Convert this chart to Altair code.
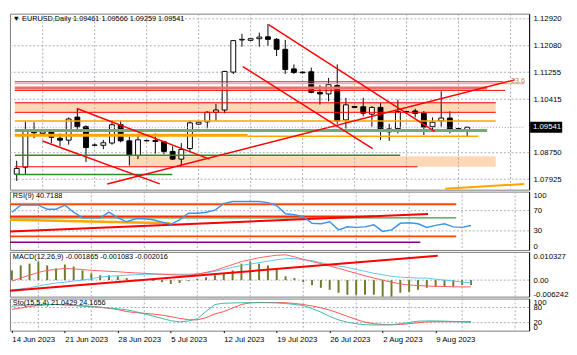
import altair as alt
import pandas as pd

# ---------------- data ----------------
date_labels = ["14 Jun 2023", "21 Jun 2023", "28 Jun 2023", "5 Jul 2023", "12 Jul 2023",
               "19 Jul 2023", "26 Jul 2023", "2 Aug 2023", "9 Aug 2023"]
date_ticks = [0, 6, 12, 18, 24, 30, 36, 42, 48]
grid_bars = [3, 9, 15, 21, 27, 33, 39, 45, 51, 57]

opens = [1.0808, 1.0830, 1.0944, 1.0935, 1.0940, 1.0920, 1.0914, 1.0986, 1.0956, 1.0898,
         1.0898, 1.0905, 1.0962, 1.0912, 1.0866, 1.0912, 1.0913, 1.0909, 1.0879, 1.0855,
         1.0888, 1.0964, 1.0971, 1.1001, 1.1008, 1.1126, 1.1226, 1.1225, 1.1230, 1.1236,
         1.1228, 1.1197, 1.1136, 1.1126, 1.1127, 1.1063, 1.1058, 1.1084, 1.0977, 1.1019,
         1.1018, 1.0995, 1.1016, 1.0940, 1.0950, 1.1003, 1.1005, 1.0997, 1.0956, 1.0974,
         1.0983, 1.0950, 1.09461]
highs = [1.0850, 1.0972, 1.0970, 1.0943, 1.0945, 1.0935, 1.0985, 1.1012, 1.0960, 1.0903,
         1.0915, 1.0976, 1.0975, 1.0925, 1.0934, 1.0915, 1.0935, 1.0912, 1.0895, 1.0905,
         1.0975, 1.0972, 1.1004, 1.1027, 1.1130, 1.1226, 1.1245, 1.1232, 1.1249, 1.1276,
         1.1232, 1.1226, 1.1150, 1.1128, 1.1140, 1.1085, 1.1108, 1.1150, 1.1046, 1.1021,
         1.1046, 1.1020, 1.1030, 1.0965, 1.1040, 1.1006, 1.1012, 1.1005, 1.0985, 1.1066,
         1.1004, 1.0951, 1.09566]
lows = [1.0787, 1.0806, 1.0920, 1.0931, 1.0905, 1.0895, 1.0900, 1.0945, 1.0846, 1.0896,
        1.0886, 1.0900, 1.0907, 1.0835, 1.0855, 1.0910, 1.0872, 1.0870, 1.0852, 1.0833,
        1.0880, 1.0962, 1.0951, 1.0975, 1.0998, 1.1120, 1.1205, 1.1223, 1.1205, 1.1208,
        1.1176, 1.1120, 1.1120, 1.1122, 1.1060, 1.1025, 1.1035, 1.0965, 1.0950, 1.1015,
        1.0988, 1.0956, 1.0914, 1.0912, 1.0935, 1.1000, 1.0985, 1.0930, 1.0940, 1.0956,
        1.0935, 1.0944, 1.09259]
closes = [1.0826, 1.0944, 1.0937, 1.0940, 1.0923, 1.0914, 1.0980, 1.0956, 1.0891, 1.0899,
          1.0906, 1.0962, 1.0912, 1.0866, 1.0915, 1.0913, 1.0910, 1.0879, 1.0855, 1.0885,
          1.0968, 1.0970, 1.1001, 1.1008, 1.1128, 1.1224, 1.1228, 1.1230, 1.1235, 1.1228,
          1.1197, 1.1134, 1.1125, 1.1124, 1.1063, 1.1058, 1.1087, 1.0974, 1.1024, 1.1016,
          1.0998, 1.1016, 1.0941, 1.0949, 1.1003, 1.1003, 1.0997, 1.0955, 1.0970, 1.0983,
          1.0947, 1.0946, 1.09541]

rsi = [67, 81, 81, 81, 73, 73, 81, 67, 56, 56, 56, 67, 56, 48, 54, 54, 52, 47, 43, 52,
       65, 65, 67, 71, 84, 88, 88, 88, 88, 86, 80, 64, 62, 58, 45, 44, 48, 32, 38, 37,
       38, 42, 29, 32, 45, 46, 44, 37, 41, 44, 38, 37, 40.7188]

macd_hist = [0.0043, 0.0065, 0.0073, 0.0082, 0.0065, 0.0052, 0.0069, 0.0060, 0.0043, 0.0030,
             0.0022, 0.0022, 0.0017, 0.0009, 0.0002, 0.0001, -0.0004, -0.0009, -0.0017, -0.0013,
             -0.0004, 0.0006, 0.0013, 0.0022, 0.0030, 0.0043, 0.0073, 0.0082, 0.0073, 0.0065,
             0.0052, 0.0017, 0.0009, -0.0009, -0.0022, -0.0034, -0.0043, -0.0056, -0.0065, -0.0065,
             -0.0065, -0.0065, -0.0073, -0.0073, -0.0056, -0.0052, -0.0043, -0.0034, -0.0030, -0.0030,
             -0.0030, -0.0022, -0.0022]
macd_blue = [-0.0043, -0.0039, -0.0034, -0.0026, -0.0019, -0.0013, -0.0009, -0.0004, 0.0000, 0.0006,
             0.0013, 0.0017, 0.0019, 0.0022, 0.0024, 0.0026, 0.0026, 0.0026, 0.0026, 0.0026,
             0.0026, 0.0028, 0.0032, 0.0039, 0.0047, 0.0056, 0.0065, 0.0071, 0.0077, 0.0084,
             0.0090, 0.0095, 0.0095, 0.0090, 0.0086, 0.0077, 0.0069, 0.0062, 0.0056, 0.0047,
             0.0039, 0.0030, 0.0024, 0.0017, 0.0013, 0.0011, 0.0009, 0.0009, 0.0004, 0.0000,
             -0.0004, -0.0009, -0.0013]
macd_red = [-0.0004, 0.0009, 0.0022, 0.0034, 0.0043, 0.0047, 0.0052, 0.0049, 0.0047, 0.0043,
            0.0041, 0.0039, 0.0037, 0.0034, 0.0032, 0.0030, 0.0028, 0.0026, 0.0024, 0.0022,
            0.0022, 0.0026, 0.0034, 0.0043, 0.0056, 0.0069, 0.0082, 0.0090, 0.0099, 0.0105,
            0.0110, 0.0112, 0.0103, 0.0092, 0.0082, 0.0073, 0.0062, 0.0052, 0.0041, 0.0030,
            0.0019, 0.0009, 0.0000, -0.0009, -0.0017, -0.0022, -0.0024, -0.0026, -0.0028, -0.0028,
            -0.0030, -0.0030, -0.0030]
macd_last = [-0.001865, -0.001083, -0.002016]

sto_main = [85, 88, 90, 91, 92, 92, 90, 88, 85, 83, 81, 78, 75, 71, 64, 55, 46, 37, 28, 23,
            27, 35, 65, 92, 97, 98, 99, 99, 99, 99, 98, 96, 92, 88, 76, 62, 45, 31, 22, 16,
            12, 11, 11, 12, 16, 21, 26, 27, 27, 26, 25, 23, 21.0429]
sto_sig = [73, 78, 84, 88, 91, 92, 91, 89, 87, 85, 81, 77, 72, 64, 60, 57, 54, 50, 44, 37,
           32, 31, 40, 55, 64, 78, 92, 99, 100, 100, 100, 99, 96, 92, 86, 79, 70, 58, 45, 33,
           22, 16, 13, 12, 13, 16, 20, 23, 24, 24, 24, 24, 24.1656]

price_ticks = [1.12920, 1.12080, 1.11255, 1.10415, 1.08750, 1.07925]
rsi_ticks = [0, 30, 70, 100]
rsi_grid = [30, 70]
macd_ticks = [-0.006242, 0.0, 0.010327]
macd_grid = [0.0]
sto_ticks = [0, 20, 80, 100]
sto_grid = [20, 80]

# drawn objects: [level, from_bar, to_bar] / [bar1, level1, bar2, level2]
red_levels = [[1.10958, -0.22, 56.17], [1.10690, -0.22, 56.39], [1.10304, -0.22, 55.29],
              [1.10007, -0.22, 55.29], [1.08312, -0.22, 46.26]]
salmon_levels = [[1.10765, -0.22, 54.30]]
fib_levels = [[1.10898, -0.22, 58.59]]
orange_thin_levels = [[1.09739, -0.22, 55.29], [1.09263, 26.65, 53.30]]
orange_thick_levels = [[1.09293, -0.22, 26.65]]
green_thick_levels = [[1.09442, -0.22, 54.30]]
green_thin_levels = [[1.08669, -0.22, 44.27], [1.08074, -0.22, 17.95]]
peach_zones = [[1.10333, 1.10006, -0.22, 55.29], [1.08639, 1.08312, 13.0, 55.29]]
red_trends = [[6.94, 1.10125, 22.25, 1.08550], [2.97, 1.09115, 16.52, 1.07777],
              [10.46, 1.07777, 57.49, 1.11017], [29.07, 1.12742, 48.24, 1.09412],
              [26.1, 1.11434, 41.08, 1.08877]]
orange_trends = [[49.45, 1.07628, 58.59, 1.07777]]
fib_label = [[57.05, 1.10988, "23.6"]]

rsi_orangered_levels = [[82.7, -0.22, 50.33], [19.2, -0.22, 50.33]]
rsi_salmon_levels = [[84.6, -0.22, 50.33]]
rsi_red_levels = [[58.7, -0.22, 41.08]]
rsi_green_levels = [[55.8, -0.22, 50.33]]
rsi_purple_levels = [[7.7, -0.22, 46.26]]
rsi_red_trends = [[-0.22, 28.8, 47.14, 63.5]]
rsi_orange_trends = [[-0.22, 51.9, 17.95, 45.2]]
macd_red_trends = [[-0.22, -0.00473, 48.24, 0.01076]]

# ---------------- chart ----------------
FONT = "Liberation Sans"
W = 534
GRID = "#a3acba"
XS = alt.Scale(domain=[-0.22, 58.59], nice=False, zero=False)
PS = alt.Scale(domain=[1.07598, 1.13079], nice=False, zero=False)
RS = alt.Scale(domain=[-7.7, 107.7], nice=False, zero=False)
MS = alt.Scale(domain=[-0.007315, 0.012478], nice=False, zero=False)
SS = alt.Scale(domain=[-11.5, 115.4], nice=False, zero=False)


def yaxis(ticks, expr):
    return alt.Axis(orient="right", values=ticks, labelExpr=expr, ticks=False, domain=True,
                    domainColor="black", grid=False, labelPadding=4, labelFlush=False,
                    labelOverlap=False, title=None, labelFont=FONT, labelFontSize=8,
                    labelColor="black")


macd_expr = "datum.value == 0 ? '0.00' : replace(format(datum.value, '.6f'), '\u2212', '-')"
AXES = {
    id(PS): yaxis(price_ticks, "format(datum.value, '.5f')"),
    id(RS): yaxis(rsi_ticks, "format(datum.value, 'd')"),
    id(MS): yaxis(macd_ticks, macd_expr),
    id(SS): yaxis(sto_ticks, "format(datum.value, 'd')"),
}

date_expr = " : ".join(f"datum.value == {i} ? '{d}'" for i, d in zip(date_ticks, date_labels)) + " : ''"
XAXIS = alt.Axis(orient="bottom", values=date_ticks, labelExpr=date_expr, labelAlign="left",
                 labelFlush=False, labelOverlap=False, ticks=True, tickSize=2,
                 tickColor="black", domain=False, grid=False, labelPadding=3,
                 labelFont=FONT, labelFontSize=8, labelColor="black", title=None)


def xq(f, bottom=False):
    return alt.X(f, type="quantitative", scale=XS, axis=XAXIS if bottom else None)


def yq(f, s):
    return alt.Y(f, type="quantitative", scale=s, axis=AXES[id(s)])


def vgrid(bottom=False):
    return alt.Chart(pd.DataFrame({"b": grid_bars})).mark_rule(
        color=GRID, strokeDash=[2, 2], strokeWidth=1).encode(x=xq("b", bottom))


def hgrid(levels, s):
    return alt.Chart(pd.DataFrame({"v": levels})).mark_rule(
        color=GRID, strokeDash=[2, 2], strokeWidth=1).encode(y=yq("v", s))


def hlines(rows, s, color, width, dash=None):
    df = pd.DataFrame(rows, columns=["v", "a", "b"])
    kw = dict(color=color, strokeWidth=width, clip=True)
    if dash:
        kw["strokeDash"] = dash
    return alt.Chart(df).mark_rule(**kw).encode(x=xq("a"), x2="b", y=yq("v", s))


def tlines(rows, s, color, width):
    df = pd.DataFrame(rows, columns=["a", "v1", "b", "v2"])
    return alt.Chart(df).mark_rule(color=color, strokeWidth=width, clip=True).encode(
        x=xq("a"), x2="b", y=yq("v1", s), y2="v2")


def label(text):
    return alt.Chart(pd.DataFrame({"t": [text]})).mark_text(
        align="left", baseline="middle", font=FONT, fontSize=7.5, color="black").encode(
        x=alt.value(3), y=alt.value(5), text="t")


n = len(opens)
bars = pd.DataFrame({"i": list(range(n)), "o": opens, "h": highs, "l": lows, "c": closes})
bars["dir"] = ["up" if c >= o else "down" for o, c in zip(opens, closes)]

zones = alt.Chart(pd.DataFrame(peach_zones, columns=["v1", "v2", "a", "b"])).mark_rect(
    color="#fcd8b6", clip=True).encode(x=xq("a"), x2="b", y=yq("v1", PS), y2="v2")
wicks = alt.Chart(bars).mark_rule(color="black", strokeWidth=1).encode(
    x=xq("i"), y=yq("l", PS), y2="h")
bodies = alt.Chart(bars).mark_bar(size=5, stroke="black", strokeWidth=1).encode(
    x=xq("i"), y=yq("o", PS), y2="c",
    fill=alt.Fill("dir:N", scale=alt.Scale(domain=["up", "down"], range=["white", "black"]),
                  legend=None))

last_price = closes[-1]
box_df = pd.DataFrame({"v": [last_price], "t": [f"{last_price:.5f}"]})
box_df["v1"] = box_df["v"] + 0.0017
box_df["v2"] = box_df["v"] - 0.0017
box = alt.Chart(box_df).mark_rect(color="black").encode(
    x=alt.value(W + 1), x2=alt.value(W + 34), y=yq("v1", PS), y2="v2")
box_txt = alt.Chart(box_df).mark_text(align="left", baseline="middle", font=FONT,
                                      fontSize=8, color="white").encode(
    x=alt.value(W + 4), y=yq("v", PS), text="t")
fib_txt = alt.Chart(pd.DataFrame(fib_label, columns=["a", "v", "t"])).mark_text(
    align="left", baseline="middle", font=FONT, fontSize=7.5, color="#b0855a").encode(
    x=xq("a"), y=yq("v", PS), text="t")

title_main = (f"\u25bc EURUSD,Daily {opens[-1]:.5f} {highs[-1]:.5f} "
              f"{lows[-1]:.5f} {closes[-1]:.5f}")

main = alt.layer(
    zones,
    vgrid(),
    hgrid(price_ticks, PS),
    wicks, bodies,
    hlines(fib_levels, PS, "#d2a77c", 1),
    hlines(salmon_levels, PS, "#f26d6d", 3),
    hlines(red_levels, PS, "#ff0000", 1),
    hlines(orange_thin_levels, PS, "#ffa500", 1.5),
    hlines(orange_thick_levels, PS, "#ffa500", 3),
    hlines(green_thick_levels, PS, "#6fae6f", 3),
    hlines(green_thin_levels, PS, "#2e8b2e", 1.5),
    tlines(red_trends, PS, "#ff0000", 1.5),
    tlines(orange_trends, PS, "#ffa500", 2),
    hlines([[last_price, -0.22, 58.59]], PS, "#9a9a9a", 1, [1, 2]),
    box, box_txt, fib_txt,
    label(title_main),
).properties(width=W, height=181)

rsi_df = pd.DataFrame({"i": list(range(n)), "r": rsi})
rsi_panel = alt.layer(
    vgrid(),
    hgrid(rsi_grid, RS),
    hlines(rsi_salmon_levels, RS, "#ffa07a", 1),
    hlines(rsi_orangered_levels, RS, "#ff4500", 1.8),
    hlines(rsi_red_levels, RS, "#ff2a00", 2),
    hlines(rsi_green_levels, RS, "#3c9a3c", 1.5),
    hlines(rsi_purple_levels, RS, "#800080", 1.5),
    tlines(rsi_orange_trends, RS, "#ffa500", 2.5),
    tlines(rsi_red_trends, RS, "#ff0000", 2),
    alt.Chart(rsi_df).mark_line(color="#3d95e8", strokeWidth=1.5).encode(
        x=xq("i"), y=yq("r", RS)),
    label(f"RSI(9) {rsi[-1]:.4f}"),
).properties(width=W, height=60)

macd_df = pd.DataFrame({"i": list(range(n)), "h": macd_hist, "z": [0.0] * n,
                        "b": macd_blue, "r": macd_red})
macd_panel = alt.layer(
    vgrid(),
    hgrid(macd_grid, MS),
    alt.Chart(macd_df).mark_rule(color="#6b7b2b", strokeWidth=2).encode(
        x=xq("i"), y=yq("h", MS), y2="z"),
    alt.Chart(macd_df).mark_line(color="#5cc6f2", strokeWidth=1).encode(
        x=xq("i"), y=yq("b", MS)),
    alt.Chart(macd_df).mark_line(color="#ff5c5c", strokeWidth=1).encode(
        x=xq("i"), y=yq("r", MS)),
    tlines(macd_red_trends, MS, "#ff0000", 2),
    label("MACD(12,26,9) " + " ".join(f"{v:.6f}" for v in macd_last)),
).properties(width=W, height=46)

sto_df = pd.DataFrame({"i": list(range(n)), "m": sto_main, "s": sto_sig})
sto_panel = alt.layer(
    vgrid(True),
    hgrid(sto_grid, SS),
    alt.Chart(sto_df).mark_line(color="#ff5050", strokeWidth=1).encode(
        x=xq("i", True), y=yq("s", SS)),
    alt.Chart(sto_df).mark_line(color="#3cb8a8", strokeWidth=1).encode(
        x=xq("i", True), y=yq("m", SS)),
    label(f"Sto(15,5,4) {sto_main[-1]:.4f} {sto_sig[-1]:.4f}"),
).properties(width=W, height=33)

chart = alt.VConcatChart(vconcat=[main, rsi_panel, macd_panel, sto_panel], spacing=2,
                         bounds="flush", padding=0).configure_view(
    stroke="#7a7a7a", strokeWidth=1)

chart.save("out.html", embed_options={"renderer": "svg", "actions": False})
